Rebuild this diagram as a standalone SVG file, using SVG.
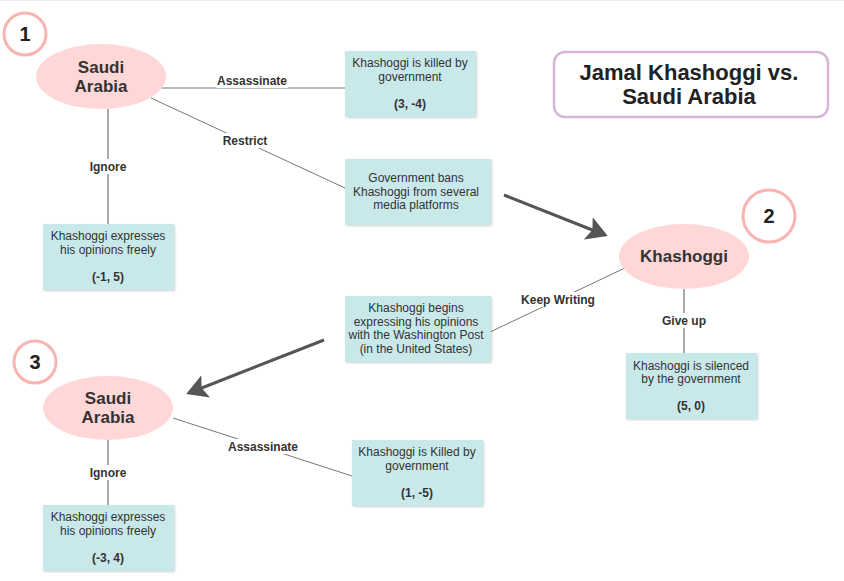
<svg xmlns="http://www.w3.org/2000/svg" width="844" height="581" viewBox="0 0 844 581">
<defs>
<style>
.box{fill:#c9e8ea;filter:url(#sh)}
.bt{font-family:"Liberation Sans",Arial,sans-serif;font-size:12px;fill:#333;text-anchor:middle}
.bb{font-weight:bold}
.ell{fill:#ffd7d7}
.et{font-family:"Liberation Sans",Arial,sans-serif;font-size:17px;font-weight:bold;fill:#333;text-anchor:middle}
.num{fill:#fff;stroke:#f8b4b0;stroke-width:3}
.nt{font-family:"Liberation Sans",Arial,sans-serif;font-size:20px;font-weight:bold;fill:#222;text-anchor:middle}
.tt{font-family:"Liberation Sans",Arial,sans-serif;font-size:22px;font-weight:bold;fill:#222;text-anchor:middle}
.lbl{font-family:"Liberation Sans",Arial,sans-serif;font-size:12px;font-weight:bold;fill:#333;text-anchor:middle}
.lbg{fill:#fff}
.thin{stroke:#777;stroke-width:1;fill:none}
.vert{stroke:#aaa;stroke-width:2;fill:none}
.arr{stroke:#555;stroke-width:3;fill:none;marker-end:url(#ah)}
</style>
<filter id="sh" x="-10%" y="-10%" width="125%" height="125%">
<feDropShadow dx="1" dy="1" stdDeviation="1" flood-color="#000" flood-opacity="0.18"/>
</filter>
<marker id="ah" markerWidth="8" markerHeight="8" refX="6" refY="4" orient="auto" markerUnits="strokeWidth">
<path d="M0,0 L7,4 L0,8 L1.5,4 Z" fill="#555"/>
</marker>
</defs>
<rect width="844" height="581" fill="#fff"/>
<line x1="0" y1="0.5" x2="844" y2="0.5" stroke="#eee"/>

<g id="connectors">
<line class="thin" x1="162" y1="88" x2="345" y2="88"/>
<line class="thin" x1="151" y1="98" x2="345" y2="188"/>
<line class="vert" x1="108" y1="109" x2="108" y2="224"/>
<line class="thin" x1="627" y1="267" x2="490" y2="332"/>
<line class="vert" x1="684" y1="289" x2="684" y2="353"/>
<line class="thin" x1="173" y1="418" x2="352" y2="476"/>
<line class="vert" x1="108" y1="440" x2="108" y2="505"/>
<line class="arr" x1="504" y1="195" x2="605" y2="235"/>
<line class="arr" x1="324" y1="340" x2="189" y2="393"/>
<rect class="lbg" x="216" y="73" width="72" height="15"/>
<text class="lbl" x="252" y="85">Assassinate</text>
<rect class="lbg" x="220" y="133" width="50" height="15"/>
<text class="lbl" x="245" y="145">Restrict</text>
<rect class="lbg" x="88" y="159" width="40" height="15"/>
<text class="lbl" x="108" y="171">Ignore</text>
<rect class="lbg" x="520" y="292" width="76" height="15"/>
<text class="lbl" x="558" y="304">Keep Writing</text>
<rect class="lbg" x="661" y="313" width="46" height="15"/>
<text class="lbl" x="684" y="325">Give up</text>
<rect class="lbg" x="227" y="439" width="72" height="15"/>
<text class="lbl" x="263" y="451">Assassinate</text>
<rect class="lbg" x="88" y="465" width="40" height="15"/>
<text class="lbl" x="108" y="477">Ignore</text>
</g>

<g id="n1">
<circle class="num" cx="25" cy="34" r="21"/>
<text class="nt" x="25" y="41">1</text>
</g>
<g id="sa1">
<ellipse class="ell" cx="101" cy="76.5" rx="65" ry="32.5"/>
<text class="et" x="101" y="73">Saudi</text>
<text class="et" x="101" y="92">Arabia</text>
</g>
<g id="b-killed1">
<rect class="box" x="345" y="51" width="131" height="66"/>
<text class="bt" x="410" y="67">Khashoggi is killed by</text>
<text class="bt" x="410" y="81">government</text>
<text class="bt bb" x="410" y="108">(3, -4)</text>
</g>
<g id="b-bans">
<rect class="box" x="345" y="159" width="146" height="66"/>
<text class="bt" x="416" y="182">Government bans</text>
<text class="bt" x="416" y="196">Khashoggi from several</text>
<text class="bt" x="416" y="209">media platforms</text>
</g>
<g id="b-free1">
<rect class="box" x="43" y="224" width="131" height="66"/>
<text class="bt" x="108" y="240">Khashoggi expresses</text>
<text class="bt" x="108" y="254">his opinions freely</text>
<text class="bt bb" x="108" y="281">(-1, 5)</text>
</g>
<g id="title">
<rect x="554" y="52" width="274" height="65" rx="11" fill="#fff" stroke="#d6b6d6" stroke-width="2.5"/>
<text class="tt" x="689" y="80">Jamal Khashoggi vs.</text>
<text class="tt" x="689" y="104">Saudi Arabia</text>
</g>
<g id="n2">
<circle class="num" cx="769" cy="216" r="26"/>
<text class="nt" x="769" y="223">2</text>
</g>
<g id="kh">
<ellipse class="ell" cx="684" cy="256.5" rx="65" ry="32.5"/>
<text class="et" x="684" y="262">Khashoggi</text>
</g>
<g id="b-silenced">
<rect class="box" x="626" y="353" width="131" height="66"/>
<text class="bt" x="691" y="370">Khashoggi is silenced</text>
<text class="bt" x="691" y="383">by the government</text>
<text class="bt bb" x="691" y="410">(5, 0)</text>
</g>
<g id="b-post">
<rect class="box" x="345" y="296" width="146" height="66"/>
<text class="bt" x="416" y="312">Khashoggi begins</text>
<text class="bt" x="416" y="326">expressing his opinions</text>
<text class="bt" x="416" y="339">with the Washington Post</text>
<text class="bt" x="416" y="353">(in the United States)</text>
</g>
<g id="n3">
<circle class="num" cx="35" cy="362" r="21"/>
<text class="nt" x="35" y="369">3</text>
</g>
<g id="sa3">
<ellipse class="ell" cx="108" cy="408" rx="65" ry="32"/>
<text class="et" x="108" y="404">Saudi</text>
<text class="et" x="108" y="423">Arabia</text>
</g>
<g id="b-killed3">
<rect class="box" x="352" y="440" width="131" height="66"/>
<text class="bt" x="417" y="456">Khashoggi is Killed by</text>
<text class="bt" x="417" y="470">government</text>
<text class="bt bb" x="417" y="497">(1, -5)</text>
</g>
<g id="b-free3">
<rect class="box" x="43" y="505" width="131" height="66"/>
<text class="bt" x="108" y="521">Khashoggi expresses</text>
<text class="bt" x="108" y="535">his opinions freely</text>
<text class="bt bb" x="108" y="562">(-3, 4)</text>
</g>
</svg>
